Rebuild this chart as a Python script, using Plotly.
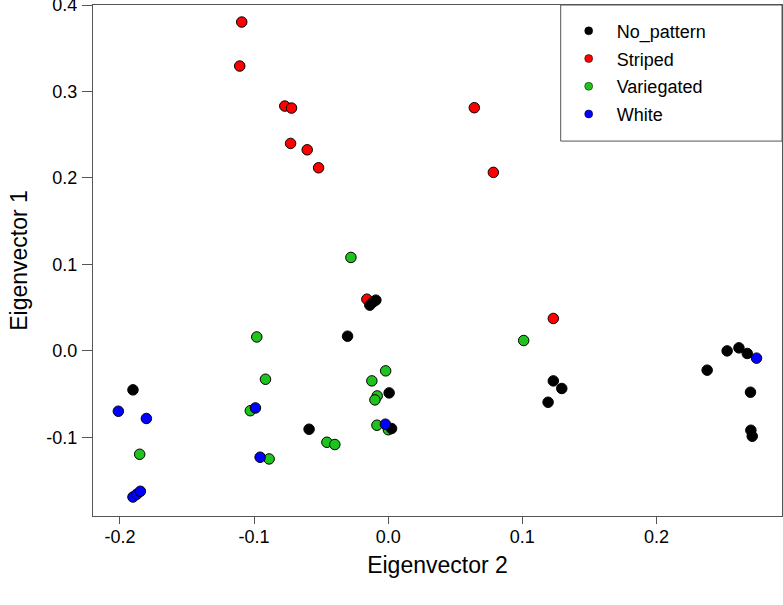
import plotly.graph_objects as go

categories = ["No_pattern", "Striped", "Variegated", "White"]
colors = {"No_pattern": "#000000", "Striped": "#FF0000", "Variegated": "#1EC31E", "White": "#0000FF"}

nopattern_x = [-0.1903, -0.0303, -0.0114, -0.0137, -0.0092, 0.0007, -0.0590, 0.0025,
               0.1231, 0.1294, 0.1192, 0.2378, 0.2527, 0.2615, 0.2677, 0.2701, 0.2704, 0.2714]
nopattern_y = [-0.0451, 0.0170, 0.0564, 0.0529, 0.0587, -0.0486, -0.0906, -0.0898,
               -0.0347, -0.0435, -0.0594, -0.0223, 0.0000, 0.0035, -0.0030, -0.0478, -0.0918, -0.0987]

striped_x = [-0.1092, -0.1107, -0.0771, -0.0721, -0.0728, -0.0604, -0.0519, 0.0642, 0.0784, -0.0159, 0.1231]
striped_y = [0.3804, 0.3295, 0.2832, 0.2809, 0.2400, 0.2326, 0.2118, 0.2813, 0.2065, 0.0598, 0.0375]

variegated_x = [0.1010, -0.0278, -0.0980, -0.0915, -0.1028, -0.0888, -0.0457, -0.0398,
                -0.0019, -0.0122, -0.0082, -0.0099, -0.0084, 0.0001, -0.1853]
variegated_y = [0.0120, 0.1081, 0.0161, -0.0328, -0.0692, -0.1250, -0.1057, -0.1083,
                -0.0231, -0.0347, -0.0521, -0.0567, -0.0860, -0.0912, -0.1196]

white_x = [0.2746, -0.2012, -0.1803, -0.1903, -0.1875, -0.1848, -0.0990, -0.0955, -0.0021]
white_y = [-0.0084, -0.0698, -0.0782, -0.1690, -0.1659, -0.1624, -0.0660, -0.1230, -0.0848]

x_ticks = [-0.2, -0.1, 0.0, 0.1, 0.2]
y_ticks = [-0.1, 0.0, 0.1, 0.2, 0.3, 0.4]

data = {
    "No_pattern": (nopattern_x, nopattern_y),
    "Striped": (striped_x, striped_y),
    "Variegated": (variegated_x, variegated_y),
    "White": (white_x, white_y),
}

FONT = "Liberation Sans, Arial, sans-serif"
AX = "#555555"

fig = go.Figure()

# draw order: Striped, Variegated, No_pattern, White (later on top)
for name in ["Striped", "Variegated", "No_pattern", "White"]:
    xs, ys = data[name]
    fig.add_trace(go.Scatter(
        x=xs, y=ys, mode="markers", name=name, showlegend=False, cliponaxis=False,
        marker=dict(size=10.5, color=colors[name], line=dict(color="#000000", width=1)),
    ))

# legend entries with small markers
for i, name in enumerate(categories):
    fig.add_trace(go.Scatter(
        x=[None], y=[None], mode="markers", name=name, legendgroup=name,
        legendrank=i + 1, showlegend=True,
        marker=dict(size=8, color=colors[name], line=dict(color="#000000", width=0.5)),
    ))

fig.update_layout(
    width=783, height=605,
    margin=dict(l=93, r=1, t=5, b=89, autoexpand=False),
    paper_bgcolor="white", plot_bgcolor="white",
    font=dict(family=FONT, size=18, color="#000000"),
    showlegend=True,
    legend=dict(
        x=0.6788, xanchor="left", y=0.985, yanchor="top",
        bgcolor="rgba(0,0,0,0)", borderwidth=0,
        font=dict(family=FONT, size=18, color="#000000"),
        itemwidth=46, tracegroupgap=1.3, traceorder="grouped",
    ),
    shapes=[dict(type="rect", xref="paper", yref="paper",
                 x0=0.6788, x1=1.0, y0=0.7337, y1=1.0,
                 line=dict(color=AX, width=1), fillcolor="rgba(0,0,0,0)")],
)

fig.update_xaxes(
    range=[-0.2201, 0.2936], tickvals=x_ticks, ticktext=[f"{v:.1f}" for v in x_ticks],
    showgrid=False, zeroline=False, showline=True, linecolor=AX, linewidth=1, mirror=True,
    ticks="outside", ticklen=7, tickcolor=AX, tickfont=dict(size=18), automargin=False,
    ticklabelstandoff=-3,
    title=dict(text="Eigenvector 2", font=dict(size=23), standoff=11),
)
fig.update_yaxes(
    range=[-0.1910, 0.4001], tickvals=y_ticks, ticktext=[f"{v:.1f}" for v in y_ticks],
    showgrid=False, zeroline=False, showline=True, linecolor=AX, linewidth=1, mirror=True,
    ticks="outside", ticklen=10, tickcolor=AX, tickfont=dict(size=18), automargin=False,
    ticklabelstandoff=1, ticklabeloverflow="allow",
    title=dict(text="Eigenvector 1", font=dict(size=23), standoff=12),
)

fig.write_html(
    "out.html",
    config={"displayModeBar": False},
    post_script="document.body.style.margin='0';document.body.style.overflow='hidden';",
)
